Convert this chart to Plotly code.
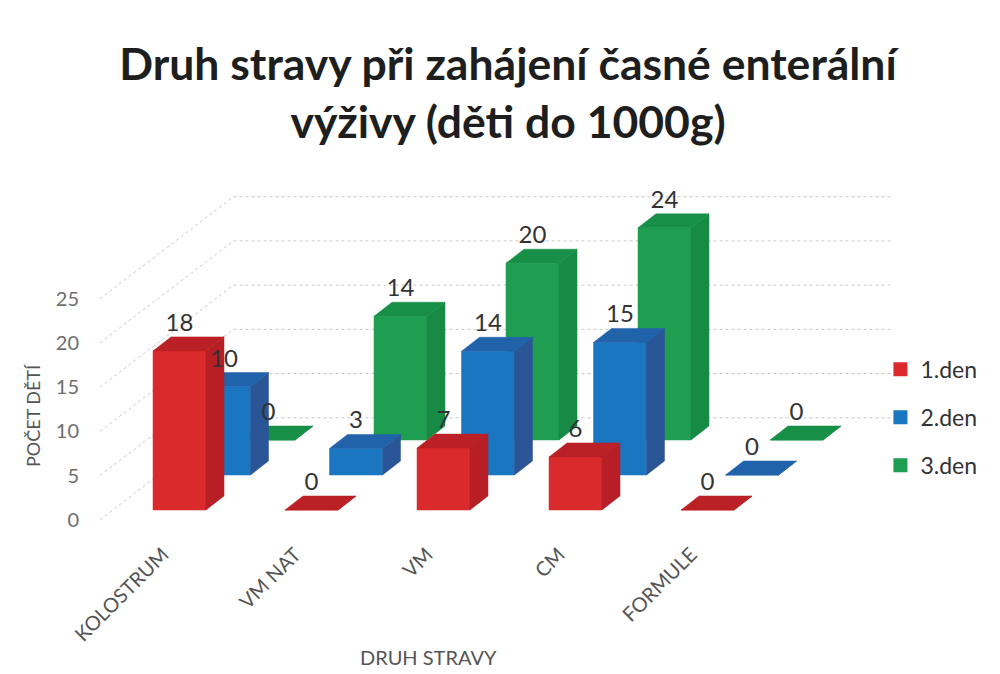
import plotly.graph_objects as go

categories = ["KOLOSTRUM", "VM NAT", "VM", "CM", "FORMULE"]
den1 = [18, 0, 7, 6, 0]
den2 = [10, 3, 14, 15, 0]
den3 = [0, 14, 20, 24, 0]
y_ticks = [0, 5, 10, 15, 20, 25]

series = [
    ("3.den", den3, 2, "#1f9d50", "#178f47", "#178a45"),
    ("2.den", den2, 1, "#1b76c2", "#2163ab", "#2a5597"),
    ("1.den", den1, 0, "#da2a2c", "#bb2026", "#b71e25"),
]
legend_order = [2, 1, 0]

PX_X, PX_Y = 132.0, 8.84
X0, Y0 = 153.0, 510.0
L, R, T, B = 85, 900, 150, 538
BAR_W = 53 / PX_X
STEP_X, STEP_Y = 44.5 / PX_X, 35 / PX_Y
DEP_X, DEP_Y = 18 / PX_X, 14 / PX_Y
WALL_Y = -1.1
WALL_FRONT = -53 / PX_X
WALL_BACK = 80.5 / PX_X
WALL_RISE = 102 / PX_Y
WALL_END = 740 / PX_X


def faces(vals, s):
    fx, fy, tx, ty, sx, sy = [], [], [], [], [], []
    for c, v in enumerate(vals):
        x0 = c + s * STEP_X
        x1 = x0 + BAR_W
        b = s * STEP_Y
        t = b + v
        fx += [x0, x1, x1, x0, x0, None]
        fy += [b, b, t, t, b, None]
        tx += [x0, x1, x1 + DEP_X, x0 + DEP_X, x0, None]
        ty += [t, t, t + DEP_Y, t + DEP_Y, t, None]
        sx += [x1, x1 + DEP_X, x1 + DEP_X, x1, x1, None]
        sy += [b, b + DEP_Y, t + DEP_Y, t, b, None]
    return fx, fy, tx, ty, sx, sy


fig = go.Figure()

# wall gridlines
gx, gy = [], []
for v in y_ticks:
    gx += [WALL_FRONT, WALL_BACK, WALL_END, None]
    gy += [v + WALL_Y, v + WALL_Y + WALL_RISE, v + WALL_Y + WALL_RISE, None]
fig.add_trace(go.Scatter(x=gx, y=gy, mode="lines", showlegend=False, hoverinfo="skip",
                         line=dict(color="#c9c9c9", width=1, dash="dot")))


def poly(x, y, color):
    fig.add_trace(go.Scatter(x=x, y=y, mode="lines", fill="toself", fillcolor=color,
                             line=dict(color=color, width=0.5), showlegend=False,
                             hoverinfo="skip"))


for name, vals, s, cf, ct, cs in series:
    fx, fy, tx, ty, sx, sy = faces(vals, s)
    poly(fx, fy, cf)
    poly(sx, sy, cs)
    poly(tx, ty, ct)

# value labels
for name, vals, s, cf, ct, cs in series:
    fig.add_trace(go.Scatter(
        x=[c + s * STEP_X + BAR_W / 2 for c in range(len(vals))],
        y=[s * STEP_Y + v + DEP_Y + 12 / PX_Y for v in vals],
        mode="text", text=[str(v) for v in vals], textposition="middle center",
        textfont=dict(family="Lato", size=24, color="#333333"),
        showlegend=False, hoverinfo="skip"))

# legend entries
for i in legend_order:
    name, vals, s, cf, ct, cs = series[i]
    fig.add_trace(go.Scatter(x=[None], y=[None], mode="markers", name=name, legendgroup=name,
                             marker=dict(symbol="square", size=14, color=cf)))

fig.update_layout(
    width=1000, height=674, autosize=False,
    paper_bgcolor="white", plot_bgcolor="white",
    margin=dict(l=L, r=1000 - R, t=T, b=674 - B, autoexpand=False),
    title=dict(text="Druh stravy při zahájení časné enterální<br>výživy (děti do 1000g)",
               x=0.508, xanchor="center", y=0.881, yanchor="top",
               font=dict(family="Lato", size=44.5, color="#1e1e1e", weight="bold")),
    font=dict(family="Lato", color="#555555"),
    xaxis=dict(range=[(L - X0) / PX_X, (R - X0) / PX_X], showgrid=False, zeroline=False,
               showline=False, ticks="", tickmode="array",
               tickvals=[c + 10 / PX_X for c in range(len(categories))], ticktext=categories,
               tickangle=-45, tickfont=dict(family="Lato", size=20, color="#555555")),
    yaxis=dict(range=[(Y0 - B) / PX_Y, (Y0 - T) / PX_Y], showgrid=False, zeroline=False,
               showline=False, ticks="", tickmode="array",
               tickvals=[v + WALL_Y for v in y_ticks], ticktext=[str(v) for v in y_ticks],
               ticklabelstandoff=5, tickfont=dict(family="Lato", size=20, color="#6e6e6e")),
    legend=dict(x=0.976, xanchor="left", y=0.49, yanchor="top", tracegroupgap=15,
                font=dict(family="Lato", size=23, color="#333333"), bgcolor="rgba(0,0,0,0)",
                traceorder="grouped"),
    annotations=[
        dict(text="DRUH STRAVY", xref="paper", yref="paper", showarrow=False,
             x=(428 - L) / (R - L), y=(B - 657) / (B - T), xanchor="center", yanchor="middle",
             font=dict(family="Lato", size=20, color="#555555")),
        dict(text="POČET DĚTÍ", xref="paper", yref="paper", showarrow=False, textangle=-90,
             x=(33 - L) / (R - L), y=(B - 415) / (B - T), xanchor="center", yanchor="middle",
             font=dict(family="Lato", size=18, color="#555555")),
    ],
)

fig.write_html("out.html", config={"displayModeBar": False},
               post_script="document.body.style.margin='0';")
